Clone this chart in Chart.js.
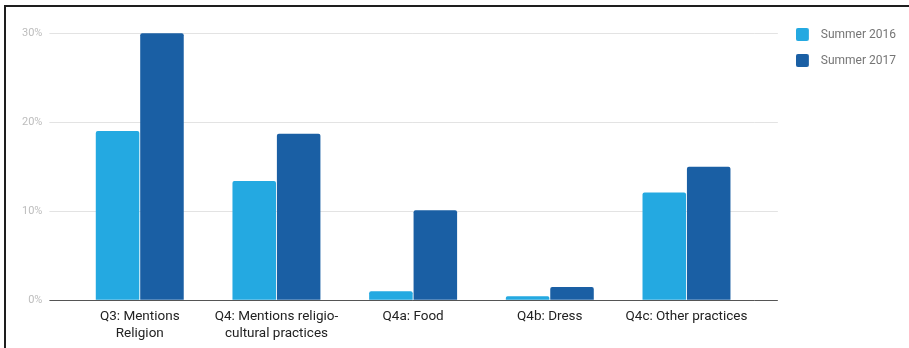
<!DOCTYPE html>
<html>
<head>
<meta charset="utf-8">
<script src="https://cdn.jsdelivr.net/npm/chart.js@4/dist/chart.umd.min.js"></script>
<style>
  html, body { margin: 0; padding: 0; background: #fff; }
  #wrap { position: relative; width: 909px; height: 348px; overflow: hidden; }
  #frame {
    position: absolute; left: 4px; top: 5px; width: 960px; height: 400px;
    border-left: 2px solid #1e1e1e; border-top: 2px solid #1e1e1e;
    pointer-events: none;
  }
  canvas { position: absolute; left: 0; top: 0; }
</style>
</head>
<body>
<div id="wrap">
  <canvas id="chart" width="909" height="348"></canvas>
  <div id="frame"></div>
</div>
<script>
const categories = [
  ["Q3: Mentions", "Religion"],
  ["Q4: Mentions religio-", "cultural practices"],
  "Q4a: Food",
  "Q4b: Dress",
  "Q4c: Other practices",
];
const summer2016 = [19, 13.4, 1.0, 0.45, 12.1];
const summer2017 = [30, 18.7, 10.1, 1.5, 15.0];
const yTicks = [0, 10, 20, 30];
const colors = ["#24a9e1", "#1a5fa4"];

const gridColor = (ctx) => (ctx.tick && ctx.tick.value === 0 ? "#555555" : "#e3e3e3");

// legend swatch: rounded square sitting at the left of a wider icon
function swatch(color) {
  const c = document.createElement("canvas");
  c.width = 19;
  c.height = 13;
  const g = c.getContext("2d");
  g.fillStyle = color;
  g.beginPath();
  g.roundRect(0, 0, 13, 13, 2);
  g.fill();
  return c;
}
const legendIcons = colors.map(swatch);

new Chart(document.getElementById("chart").getContext("2d"), {
  type: "bar",
  data: {
    labels: categories,
    datasets: [
      {
        label: "Summer 2016",
        data: summer2016,
        backgroundColor: colors[0],
        borderRadius: 2,
        borderSkipped: "bottom",
        categoryPercentage: 0.65,
        barPercentage: 0.98,
      },
      {
        label: "Summer 2017",
        data: summer2017,
        backgroundColor: colors[1],
        borderRadius: 2,
        borderSkipped: "bottom",
        categoryPercentage: 0.65,
        barPercentage: 0.98,
      },
    ],
  },
  options: {
    responsive: false,
    animation: false,
    layout: { padding: { left: 15, right: 3, top: 14.5, bottom: -2 } },
    plugins: {
      tooltip: { enabled: false },
      legend: {
        position: "right",
        align: "start",
        labels: {
          usePointStyle: true,
          pointStyleWidth: 19,
          padding: 14,
          color: "#757575",
          font: { family: "Roboto", size: 12 },
          generateLabels: (chart) =>
            Chart.defaults.plugins.legend.labels
              .generateLabels(chart)
              .map((item, i) => ({ ...item, pointStyle: legendIcons[i] })),
        },
      },
    },
    scales: {
      x: {
        offset: true,
        grid: { display: false, drawTicks: false },
        border: { display: false },
        ticks: {
          color: "#222222",
          font: { family: "Roboto", size: 13.5, lineHeight: 1.25 },
          maxRotation: 0,
          autoSkip: false,
          padding: 8,
        },
      },
      y: {
        min: 0,
        max: 32.1,
        afterBuildTicks: (scale) => {
          scale.ticks = yTicks.map((v) => ({ value: v }));
        },
        border: { display: false },
        grid: { color: gridColor, tickColor: gridColor, tickLength: 22 },
        ticks: {
          color: "#bdbdbd",
          font: { family: "Roboto", size: 11 },
          padding: 7,
          callback: (v) => v + "%",
        },
      },
      yRight: {
        position: "right",
        min: 0,
        max: 32.1,
        afterBuildTicks: (scale) => {
          scale.ticks = yTicks.map((v) => ({ value: v }));
        },
        border: { display: false },
        grid: { drawOnChartArea: false, tickColor: gridColor, tickLength: 23 },
        ticks: { padding: 2, callback: () => "" },
      },
    },
  },
});
</script>
</body>
</html>
